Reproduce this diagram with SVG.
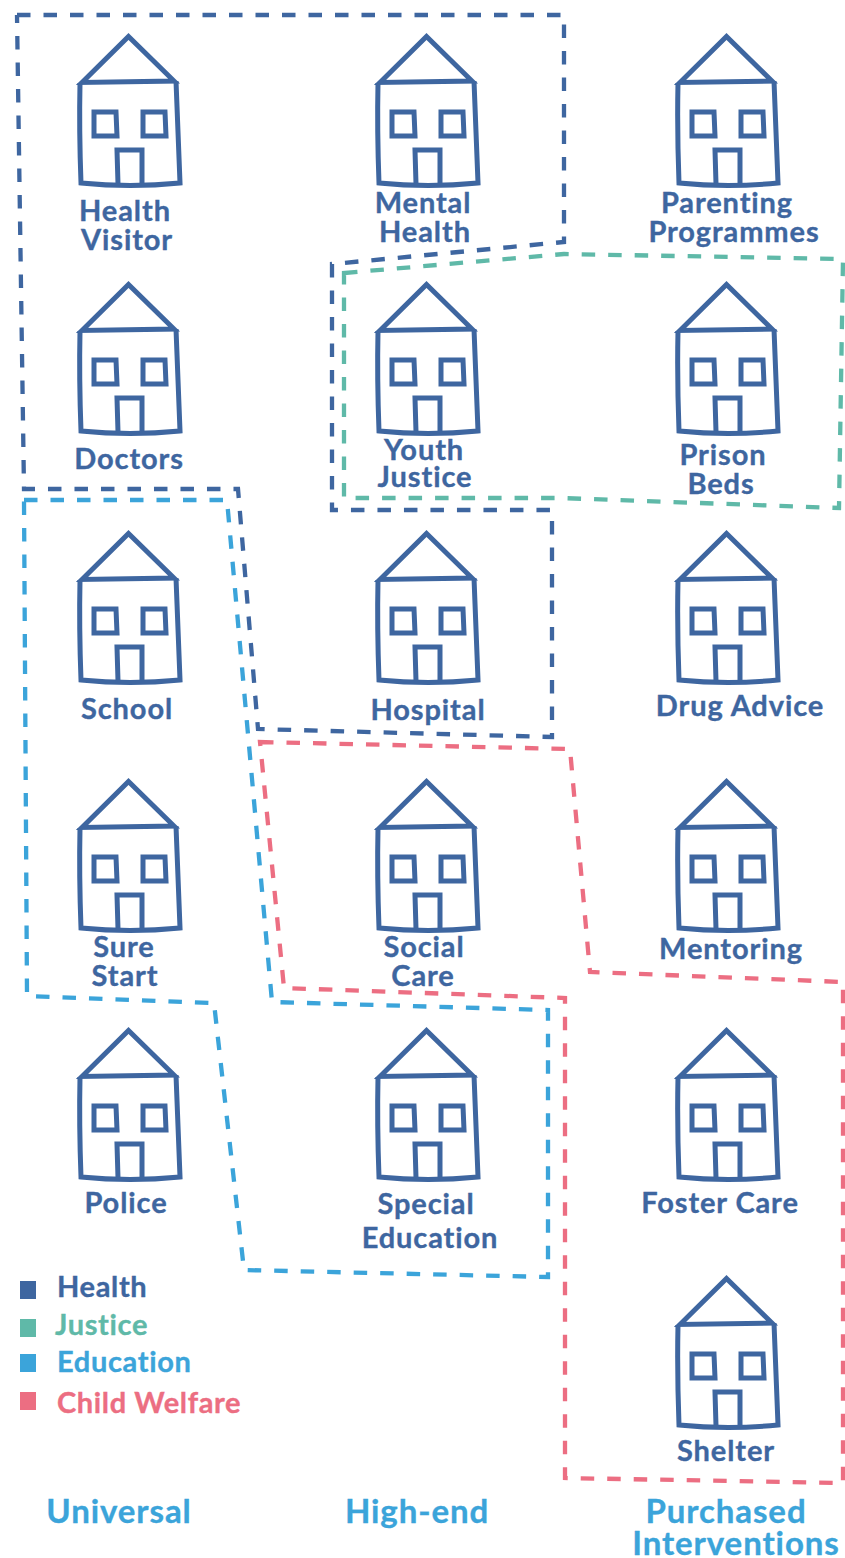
<svg xmlns="http://www.w3.org/2000/svg" xmlns:xlink="http://www.w3.org/1999/xlink" width="845" height="1558" viewBox="0 0 845 1558">
<style>
text{font-family:Lato,"Open Sans",sans-serif;font-weight:700;font-size:29px;text-anchor:middle;fill:#3e66a0;letter-spacing:.9px;stroke:#3e66a0;stroke-width:.35}
.h{fill:none;stroke:#3e66a0;stroke-width:5;stroke-linejoin:miter}
.b{fill:none;stroke-width:4.300;stroke-dasharray:13.500 13}
.health{stroke:#3e66a0}.justice{stroke:#5fb9a8}.edu{stroke:#3ba4da}.cw{stroke:#ec6e82}
.l{text-anchor:start;letter-spacing:.65px}
.c{fill:#3ba4da;stroke:#3ba4da;font-size:33px}
</style>
<defs>
<g id="house" class="h">
<path d="M82 82.500L128.500 36.500L174 81Z"/>
<path d="M80 83Q79 130 81 183Q130 188 180 183L176 81"/>
<path d="M94 112H116L117 136H94Z"/>
<path d="M143 112H165L166 136H143Z"/>
<path d="M118 184L117 150H142L142 184"/>
</g>
</defs>
<g id="connectors">
<path class="b health" d="M17 15H564V242L332 264V510H552V737L258 729L238 489H24L17 15"/>
<path class="b justice" d="M344 273L564 254L843 259L839 508L560 498L344 498Z"/>
<path class="b edu" d="M24 500H227L272 1002L548 1010V1277L244 1270L214 1003L27 996Z"/>
<path class="b cw" d="M260 742L570 749L590 972L843 982V1483L565 1478V998L284 988Z"/>
</g>
<g id="n1"><use href="#house"/><text x="125" y="221">Health</text><text x="127" y="250">Visitor</text></g>
<g id="n2"><use href="#house" x="298"/><text x="423" y="213">Mental</text><text x="425" y="242">Health</text></g>
<g id="n3"><use href="#house" x="598"/><text x="727" y="213">Parenting</text><text x="734" y="242">Programmes</text></g>
<g id="n4"><use href="#house" y="248"/><text x="129" y="469">Doctors</text></g>
<g id="n5"><use href="#house" x="298" y="248"/><text x="424" y="460">Youth</text><text x="425" y="487">Justice</text></g>
<g id="n6"><use href="#house" x="598" y="248"/><text x="723" y="465">Prison</text><text x="721" y="494">Beds</text></g>
<g id="n7"><use href="#house" y="497"/><text x="127" y="719">School</text></g>
<g id="n8"><use href="#house" x="298" y="497"/><text x="428" y="720">Hospital</text></g>
<g id="n9"><use href="#house" x="598" y="497"/><text x="740" y="716">Drug Advice</text></g>
<g id="n10"><use href="#house" y="745"/><text x="124" y="957">Sure</text><text x="125" y="986">Start</text></g>
<g id="n11"><use href="#house" x="298" y="745"/><text x="424" y="957">Social</text><text x="423" y="986">Care</text></g>
<g id="n12"><use href="#house" x="598" y="745"/><text x="731" y="959">Mentoring</text></g>
<g id="n13"><use href="#house" y="994"/><text x="126" y="1213">Police</text></g>
<g id="n14"><use href="#house" x="298" y="994"/><text x="426" y="1214">Special</text><text x="430" y="1248">Education</text></g>
<g id="n15"><use href="#house" x="598" y="994"/><text x="720" y="1213">Foster Care</text></g>
<g id="n16"><use href="#house" x="598" y="1242"/><text x="726" y="1461">Shelter</text></g>
<g id="legend">
<rect x="20" y="1281" width="16" height="18" fill="#3e66a0"/><text class="l" x="57" y="1297">Health</text>
<rect x="20" y="1319" width="16" height="18" fill="#5fb9a8"/><text class="l" x="55" y="1335" style="fill:#5fb9a8;stroke:#5fb9a8">Justice</text>
<rect x="20" y="1354" width="16" height="18" fill="#3ba4da"/><text class="l" x="57" y="1372" style="fill:#3ba4da;stroke:#3ba4da">Education</text>
<rect x="20" y="1392" width="16" height="18" fill="#ec6e82"/><text class="l" x="57" y="1413" style="fill:#ec6e82;stroke:#ec6e82">Child Welfare</text>
</g>
<g id="columns">
<text class="c" x="119" y="1523">Universal</text>
<text class="c" x="417" y="1523">High-end</text>
<text class="c" x="726" y="1523">Purchased</text>
<text class="c" x="736" y="1555">Interventions</text>
</g>
</svg>
